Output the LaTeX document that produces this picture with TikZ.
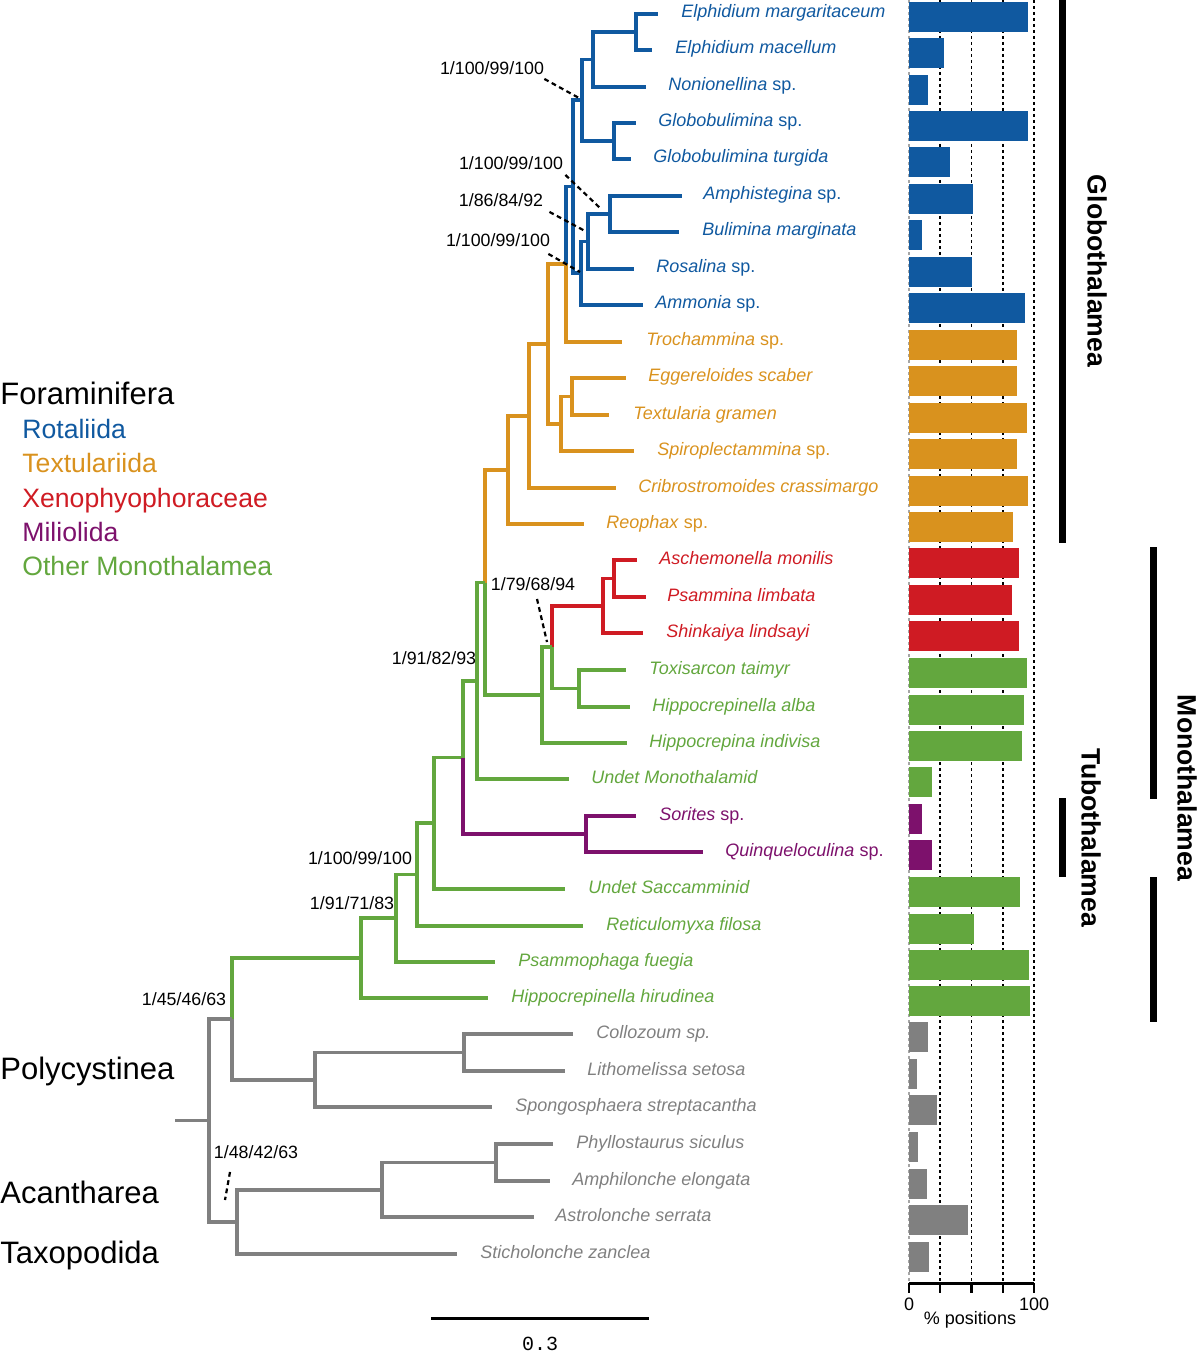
\documentclass[tikz,border=0pt]{standalone}
\usepackage{fontspec}
\setmainfont{Liberation Sans}
\setmonofont{Liberation Mono}
\usetikzlibrary{positioning}

\definecolor{rotaliida}{RGB}{16,89,160}
\definecolor{textulariida}{RGB}{217,146,30}
\definecolor{xenophyo}{RGB}{207,27,35}
\definecolor{miliolida}{RGB}{125,17,108}
\definecolor{monothal}{RGB}{99,167,62}
\definecolor{outgroup}{RGB}{128,128,128}

\tikzset{
  taxon/.style={anchor=base west,inner sep=0pt,font=\fontsize{9}{10}\selectfont\itshape},
  support/.style={inner sep=0pt,font=\fontsize{8.9}{10}\selectfont},
  pointer/.style={line width=1.1pt,dash pattern=on 2.4pt off 1.8pt},
  gridline/.style={line width=0.8pt,dash pattern=on 1.5pt off 1.5pt},
  group/.style={anchor=base west,inner sep=0pt,font=\fontsize{15.5}{17}\selectfont},
  order/.style={anchor=base west,inner sep=0pt,font=\fontsize{13.3}{15}\selectfont},
  clade/.style={inner sep=0pt,rotate=-90,font=\fontsize{13.3}{15}\selectfont\bfseries}
}
% one bar of the chart: row, percent, colour
\newcommand{\posbar}[3]{\fill[#3] (909,#1-12) rectangle ({909+1.25*#2},#1+18);}

\begin{document}
\begin{tikzpicture}[x=0.5pt,y=-0.5pt]
    \useasboundingbox (0,0) rectangle (1200,1352);

    % leaf tips
    \coordinate (t1) at (658,14);
    \coordinate (t2) at (652,50);
    \coordinate (t3) at (646,87);
    \coordinate (t4) at (636,123);
    \coordinate (t5) at (631,159);
    \coordinate (t6) at (682,196);
    \coordinate (t7) at (679,232);
    \coordinate (t8) at (634,269);
    \coordinate (t9) at (643,305);
    \coordinate (t10) at (622,342);
    \coordinate (t11) at (626,378);
    \coordinate (t12) at (609,415);
    \coordinate (t13) at (634,451);
    \coordinate (t14) at (616,488);
    \coordinate (t15) at (584,524);
    \coordinate (t16) at (637,560);
    \coordinate (t17) at (646,597);
    \coordinate (t18) at (643,633);
    \coordinate (t19) at (626,670);
    \coordinate (t20) at (630,707);
    \coordinate (t21) at (627,743);
    \coordinate (t22) at (569,779);
    \coordinate (t23) at (636,816);
    \coordinate (t24) at (703,852);
    \coordinate (t25) at (565,889);
    \coordinate (t26) at (583,926);
    \coordinate (t27) at (495,962);
    \coordinate (t28) at (488,998);
    \coordinate (t29) at (573,1034);
    \coordinate (t30) at (565,1071);
    \coordinate (t31) at (492,1107);
    \coordinate (t32) at (553,1144);
    \coordinate (t33) at (550,1181);
    \coordinate (t34) at (534,1217);
    \coordinate (t35) at (457,1254);

    % internal nodes
    \coordinate (nElph) at (636,32);
    \coordinate (nNon) at (593,59.5);
    \coordinate (nGlob) at (614,141);
    \coordinate (nEG) at (582,100);
    \coordinate (nAmph) at (610,214);
    \coordinate (nRos) at (588,241.5);
    \coordinate (nAmm) at (581,273);
    \coordinate (nRot) at (573,186.5);
    \coordinate (nTro) at (566,264);
    \coordinate (nEgg) at (572,396.5);
    \coordinate (nSpi) at (561,424);
    \coordinate (nTA) at (548,344);
    \coordinate (nTB) at (529,416);
    \coordinate (nTC) at (508,470);
    \coordinate (nAsch) at (614,578.5);
    \coordinate (nXen) at (603,606);
    \coordinate (nTox) at (579,688.5);
    \coordinate (nXT) at (552,647);
    \coordinate (nHi) at (542,695);
    \coordinate (nF1) at (485,582.5);
    \coordinate (nF2) at (477,681);
    \coordinate (nMil) at (586,834);
    \coordinate (nF3) at (463,757.5);
    \coordinate (nF4) at (434,823);
    \coordinate (nF5) at (417,874.5);
    \coordinate (nF6) at (396,918);
    \coordinate (nFor) at (361,958);
    \coordinate (nColl) at (464,1052.5);
    \coordinate (nPoly) at (315,1080);
    \coordinate (nRF) at (232,1019);
    \coordinate (nPhy) at (496,1162.5);
    \coordinate (nAst) at (382,1190);
    \coordinate (nAT) at (237,1222);
    \coordinate (nRoot) at (209,1120.5);
    \coordinate (stub) at (175,1120.5);

    % branches
    \begin{scope}[line width=1.55pt,rotaliida]
      \draw (nElph) |- (t1);
      \draw (nElph) |- (t2);
      \draw (nNon) |- (nElph);
      \draw (nNon) |- (t3);
      \draw (nGlob) |- (t4);
      \draw (nGlob) |- (t5);
      \draw (nEG) |- (nNon);
      \draw (nEG) |- (nGlob);
      \draw (nAmph) |- (t6);
      \draw (nAmph) |- (t7);
      \draw (nRos) |- (nAmph);
      \draw (nRos) |- (t8);
      \draw (nAmm) |- (nRos);
      \draw (nAmm) |- (t9);
      \draw (nRot) |- (nEG);
      \draw (nRot) |- (nAmm);
      \draw (nTro) |- (nRot);
    \end{scope}
    \begin{scope}[line width=1.55pt,textulariida]
      \draw (nTro) |- (t10);
      \draw (nEgg) |- (t11);
      \draw (nEgg) |- (t12);
      \draw (nSpi) |- (nEgg);
      \draw (nSpi) |- (t13);
      \draw (nTA) |- (nTro);
      \draw (nTA) |- (nSpi);
      \draw (nTB) |- (nTA);
      \draw (nTB) |- (t14);
      \draw (nTC) |- (nTB);
      \draw (nTC) |- (t15);
      \draw (nF1) |- (nTC);
    \end{scope}
    \begin{scope}[line width=1.55pt,xenophyo]
      \draw (nAsch) |- (t16);
      \draw (nAsch) |- (t17);
      \draw (nXen) |- (nAsch);
      \draw (nXen) |- (t18);
      \draw (nXT) |- (nXen);
    \end{scope}
    \begin{scope}[line width=1.55pt,monothal]
      \draw (nTox) |- (t19);
      \draw (nTox) |- (t20);
      \draw (nXT) |- (nTox);
      \draw (nHi) |- (nXT);
      \draw (nHi) |- (t21);
      \draw (nF1) |- (nHi);
      \draw (nF2) |- (nF1);
      \draw (nF2) |- (t22);
      \draw (nF3) |- (nF2);
      \draw (nF4) |- (nF3);
      \draw (nF4) |- (t25);
      \draw (nF5) |- (nF4);
      \draw (nF5) |- (t26);
      \draw (nF6) |- (nF5);
      \draw (nF6) |- (t27);
      \draw (nFor) |- (nF6);
      \draw (nFor) |- (t28);
      \draw (nRF) |- (nFor);
    \end{scope}
    \begin{scope}[line width=1.55pt,miliolida]
      \draw (nMil) |- (t23);
      \draw (nMil) |- (t24);
      \draw (nF3) |- (nMil);
    \end{scope}
    \begin{scope}[line width=1.55pt,outgroup]
      \draw (nColl) |- (t29);
      \draw (nColl) |- (t30);
      \draw (nPoly) |- (nColl);
      \draw (nPoly) |- (t31);
      \draw (nRF) |- (nPoly);
      \draw (nPhy) |- (t32);
      \draw (nPhy) |- (t33);
      \draw (nAst) |- (nPhy);
      \draw (nAst) |- (t34);
      \draw (nAT) |- (nAst);
      \draw (nAT) |- (t35);
      \draw (nRoot) |- (nRF);
      \draw (nRoot) |- (nAT);
      \draw (stub) -- (nRoot);
    \end{scope}

    % taxon names
    \begin{scope}[every node/.style={taxon,rotaliida}]
      \node (l1) at (681,18) {Elphidium margaritaceum};
      \node (l2) at (675,54) {Elphidium macellum};
      \node (l3) at (668,91) {Nonionellina \textup{sp.}};
      \node (l4) at (658,127) {Globobulimina \textup{sp.}};
      \node (l5) at (653,163) {Globobulimina turgida};
      \node (l6) at (703,200) {Amphistegina \textup{sp.}};
      \node (l7) at (702,236) {Bulimina marginata};
      \node (l8) at (656,273) {Rosalina \textup{sp.}};
      \node (l9) at (655,309) {Ammonia \textup{sp.}};
    \end{scope}
    \begin{scope}[every node/.style={taxon,textulariida}]
      \node (l10) at (646,346) {Trochammina \textup{sp.}};
      \node (l11) at (648,382) {Eggereloides scaber};
      \node (l12) at (633,419) {Textularia gramen};
      \node (l13) at (657,455) {Spiroplectammina \textup{sp.}};
      \node (l14) at (638,492) {Cribrostromoides crassimargo};
      \node (l15) at (606,528) {Reophax \textup{sp.}};
    \end{scope}
    \begin{scope}[every node/.style={taxon,xenophyo}]
      \node (l16) at (659,564) {Aschemonella monilis};
      \node (l17) at (667,601) {Psammina limbata};
      \node (l18) at (666,637) {Shinkaiya lindsayi};
    \end{scope}
    \begin{scope}[every node/.style={taxon,monothal}]
      \node (l19) at (649,674) {Toxisarcon taimyr};
      \node (l20) at (652,711) {Hippocrepinella alba};
      \node (l21) at (649,747) {Hippocrepina indivisa};
      \node (l22) at (591,783) {Undet Monothalamid};
      \node (l25) at (588,893) {Undet Saccamminid};
      \node (l26) at (606,930) {Reticulomyxa filosa};
      \node (l27) at (518,966) {Psammophaga fuegia};
      \node (l28) at (511,1002) {Hippocrepinella hirudinea};
    \end{scope}
    \begin{scope}[every node/.style={taxon,miliolida}]
      \node (l23) at (659,820) {Sorites \textup{sp.}};
      \node (l24) at (725,856) {Quinqueloculina \textup{sp.}};
    \end{scope}
    \begin{scope}[every node/.style={taxon,outgroup}]
      \node (l29) at (596,1038) {Collozoum sp.};
      \node (l30) at (587,1075) {Lithomelissa setosa};
      \node (l31) at (515,1111) {Spongosphaera streptacantha};
      \node (l32) at (576,1148) {Phyllostaurus siculus};
      \node (l33) at (572,1185) {Amphilonche elongata};
      \node (l34) at (555,1221) {Astrolonche serrata};
      \node (l35) at (480,1258) {Sticholonche zanclea};
    \end{scope}

    % support values
    \node[support] (s1) at (492,68) {1/100/99/100};
    \node[support] (s2) at (511,163) {1/100/99/100};
    \node[support] (s3) at (501,200) {1/86/84/92};
    \node[support] (s4) at (498,240) {1/100/99/100};
    \node[support] (s5) at (533,584) {1/79/68/94};
    \node[support] (s6) at (434,658) {1/91/82/93};
    \node[support] (s7) at (360,858) {1/100/99/100};
    \node[support] (s8) at (352,903) {1/91/71/83};
    \node[support] (s9) at (184,999) {1/45/46/63};
    \node[support] (s10) at (256,1152) {1/48/42/63};
    \coordinate (p1) at (579,98);
    \coordinate (p2) at (600,208);
    \coordinate (p3) at (585,231);
    \coordinate (p4) at (580,272);
    \coordinate (p5) at (547,642);
    \coordinate (p10) at (225,1200);
    \draw[pointer] (s1.south east) ++(0,4) -- (p1);
    \draw[pointer] (s2.south east) ++(2,5) -- (p2);
    \draw[pointer] (s3.south east) ++(6,5) -- (p3);
    \draw[pointer] (s4.south east) ++(-2,7) -- (p4);
    \draw[pointer] (s5.south) ++(4,8) -- (p5);
    \draw[pointer] (s10.south) ++(-26,13) -- (p10);

    % legend
    \node[group] (foram) at (0,404) {Foraminifera};
    \node[order,rotaliida] (rot) at (22,438) {Rotaliida};
    \node[order,textulariida] (tex) at (22,472.5) {Textulariida};
    \node[order,xenophyo] (xen) at (22,507) {Xenophyophoraceae};
    \node[order,miliolida] (mil) at (22,541) {Miliolida};
    \node[order,monothal] (mon) at (22,575) {Other Monothalamea};
    \node[group] (poly) at (0,1079) {Polycystinea};
    \node[group] (acan) at (0,1203) {Acantharea};
    \node[group] (taxo) at (0,1263) {Taxopodida};

    % scale bar
    \coordinate (sbl) at (431,1318);
    \coordinate (sbr) at (649,1318);
    \draw[line width=1.5pt] (sbl) -- (sbr);
    \node[font=\ttfamily\fontsize{10}{12}\selectfont] (sbt) at (540,1344) {0.3};

    % percent chart
    \draw[gridline,gray!70] (909,0) -- (909,1283);
    \draw[gridline] (940.25,0) -- (940.25,1283);
    \draw[gridline] (971.5,0) -- (971.5,1283);
    \draw[gridline] (1002.75,0) -- (1002.75,1283);
    \draw[gridline] (1034,0) -- (1034,1283);
    \posbar{14}{95}{rotaliida}
    \posbar{50}{28}{rotaliida}
    \posbar{87}{15}{rotaliida}
    \posbar{123}{95}{rotaliida}
    \posbar{159}{33}{rotaliida}
    \posbar{196}{51}{rotaliida}
    \posbar{232}{10}{rotaliida}
    \posbar{269}{50}{rotaliida}
    \posbar{305}{93}{rotaliida}
    \posbar{342}{86}{textulariida}
    \posbar{378}{86}{textulariida}
    \posbar{415}{94}{textulariida}
    \posbar{451}{86}{textulariida}
    \posbar{488}{95}{textulariida}
    \posbar{524}{83}{textulariida}
    \posbar{560}{88}{xenophyo}
    \posbar{597}{82}{xenophyo}
    \posbar{633}{88}{xenophyo}
    \posbar{670}{94}{monothal}
    \posbar{707}{92}{monothal}
    \posbar{743}{90}{monothal}
    \posbar{779}{18}{monothal}
    \posbar{816}{10}{miliolida}
    \posbar{852}{18}{miliolida}
    \posbar{889}{89}{monothal}
    \posbar{926}{52}{monothal}
    \posbar{962}{96}{monothal}
    \posbar{998}{97}{monothal}
    \posbar{1034}{15}{outgroup}
    \posbar{1071}{6}{outgroup}
    \posbar{1107}{22}{outgroup}
    \posbar{1144}{7}{outgroup}
    \posbar{1181}{14}{outgroup}
    \posbar{1217}{47}{outgroup}
    \posbar{1254}{16}{outgroup}
    \draw[line width=1.5pt] (909,1283) -- (1034,1283);
    \draw[line width=1.2pt] (909,1283) -- (909,1293);
    \draw[line width=1.2pt] (940.25,1283) -- (940.25,1293);
    \draw[line width=1.2pt] (971.5,1283) -- (971.5,1293);
    \draw[line width=1.2pt] (1002.75,1283) -- (1002.75,1293);
    \draw[line width=1.2pt] (1034,1283) -- (1034,1293);
    \node[font=\fontsize{9}{10}\selectfont] (ax0) at (909,1304) {0};
    \node[font=\fontsize{9}{10}\selectfont] (ax100) at (1034,1304) {100};
    \node[font=\fontsize{9}{10}\selectfont] (axl) at (970,1320) {\% positions};

    % clade bars
    \draw[line width=3.5pt] (1062,0) -- (1062,543);
    \draw[line width=3.5pt] (1153,547) -- (1153,799);
    \draw[line width=3.5pt] (1153,877) -- (1153,1022);
    \draw[line width=3.5pt] (1062,798) -- (1062,877);
    \node[clade] (globo) at (1097,271) {Globothalamea};
    \node[clade] (mono) at (1187,788) {Monothalamea};
    \node[clade] (tubo) at (1091,838) {Tubothalamea};
\end{tikzpicture}
\end{document}
